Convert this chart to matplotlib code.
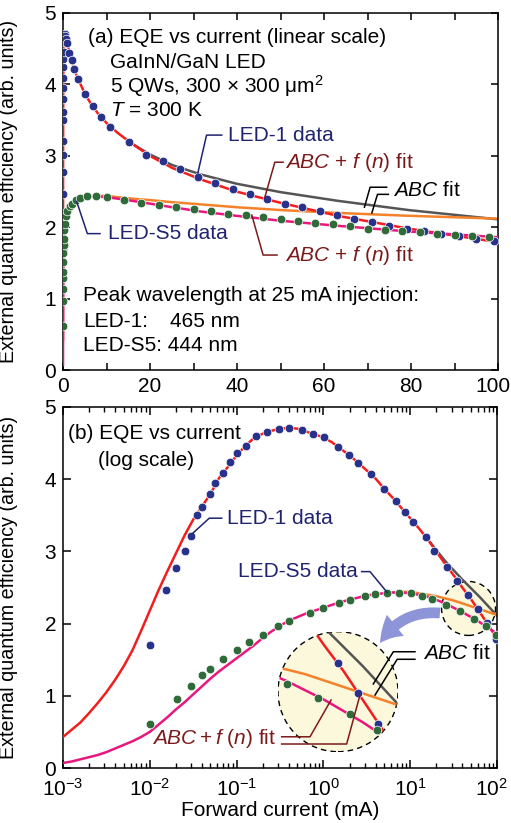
import numpy as np
import matplotlib
matplotlib.use('Agg')
import matplotlib.pyplot as plt
from matplotlib.patches import Circle, FancyArrowPatch
import matplotlib.transforms as mtransforms
from matplotlib.ticker import LogLocator, NullFormatter

plt.rcParams['font.family'] = ['Liberation Sans', 'DejaVu Sans']
plt.rcParams['mathtext.fontset'] = 'custom'
plt.rcParams['mathtext.rm'] = 'Liberation Sans'
plt.rcParams['mathtext.it'] = 'Liberation Sans:italic'
plt.rcParams['mathtext.bf'] = 'Liberation Sans:bold'
plt.rcParams['axes.linewidth'] = 1.1

# ---- measured EQE, LED-1 (log-spaced sweep, used in both panels)
led1_I = [0.01, 0.0152, 0.020, 0.0253, 0.030, 0.035, 0.040, 0.050, 0.056, 0.070,
          0.085, 0.10, 0.128, 0.167, 0.222, 0.31, 0.405, 0.56, 0.766, 1.02,
          1.49, 1.99, 2.53, 3.51, 4.99, 6.85, 8.71, 10.9, 15.2, 19.0,
          26.8, 34.9, 46.8, 59.8, 75.9, 97.7]
led1_eqe = [1.70, 2.46, 2.77, 3.01, 3.21, 3.50, 3.61, 3.79, 3.95, 4.09,
            4.24, 4.36, 4.46, 4.60, 4.65, 4.69, 4.71, 4.68, 4.63, 4.58,
            4.44, 4.34, 4.22, 4.07, 3.87, 3.70, 3.54, 3.41, 3.20, 3.01,
            2.79, 2.59, 2.39, 2.20, 2.01, 1.79]
# LED-1 linear sweep (extra points shown only in the linear panel)
led1_lin_I = [23, 27, 31, 35, 39, 43, 47, 51, 55, 59, 63, 67, 71, 75, 79, 83, 87, 91, 95, 99]
led1_lin_eqe = [2.93, 2.81, 2.71, 2.62, 2.54, 2.47, 2.40, 2.33, 2.28, 2.23,
                2.17, 2.11, 2.07, 2.02, 1.98, 1.95, 1.91, 1.88, 1.84, 1.80]

# ---- measured EQE, LED-S5
s5_I = [0.01, 0.0204, 0.030, 0.040, 0.050, 0.070, 0.10, 0.14, 0.20, 0.30,
        0.405, 0.70, 1.0, 1.51, 2.0, 3.0, 3.93, 5.45, 7.48, 10.1,
        13.6, 17.7, 25.7, 37.2, 54.3, 74.6, 97.2]
s5_eqe = [0.61, 0.96, 1.13, 1.29, 1.37, 1.51, 1.64, 1.75, 1.84, 1.96,
          2.04, 2.15, 2.22, 2.29, 2.33, 2.38, 2.41, 2.43, 2.43, 2.42,
          2.38, 2.34, 2.26, 2.17, 2.07, 1.97, 1.84]
s5_lin_I = [14, 18, 22, 26, 30, 34, 38, 42, 46, 50, 54, 58, 62, 66, 70, 74, 78, 82, 86, 90, 94, 98]
s5_lin_eqe = [2.38, 2.34, 2.31, 2.28, 2.25, 2.22, 2.19, 2.17, 2.14, 2.11, 2.09,
              2.06, 2.04, 2.01, 1.98, 1.96, 1.95, 1.93, 1.91, 1.89, 1.88, 1.86]

# ---- fit curves, read at log10(I) = -3.0 ... 2.0
fit_exp = [-3.0, -2.9, -2.8, -2.7, -2.6, -2.5, -2.4, -2.3, -2.2, -2.1,
           -2.0, -1.9, -1.8, -1.7, -1.6, -1.5, -1.4, -1.3, -1.2, -1.1,
           -1.0, -0.9, -0.8, -0.7, -0.6, -0.5, -0.4, -0.3, -0.2, -0.1,
           0.0, 0.1, 0.2, 0.3, 0.4, 0.5, 0.6, 0.7, 0.8, 0.9,
           1.0, 1.1, 1.2, 1.3, 1.4, 1.5, 1.6, 1.7, 1.8, 1.9, 2.0]
led1_abcf = [0.43, 0.53, 0.63, 0.76, 0.90, 1.05, 1.22, 1.41, 1.63, 1.90,
             2.18, 2.46, 2.72, 2.97, 3.22, 3.44, 3.62, 3.80, 4.02, 4.17,
             4.33, 4.46, 4.57, 4.63, 4.67, 4.70, 4.71, 4.70, 4.66, 4.62,
             4.58, 4.51, 4.42, 4.33, 4.23, 4.12, 4.01, 3.87, 3.74, 3.60,
             3.46, 3.32, 3.17, 3.00, 2.83, 2.67, 2.50, 2.34, 2.16, 1.98, 1.79]
s5_abcf = [0.07, 0.09, 0.12, 0.15, 0.18, 0.22, 0.27, 0.32, 0.37, 0.43,
           0.50, 0.60, 0.70, 0.81, 0.91, 1.02, 1.13, 1.24, 1.34, 1.43,
           1.52, 1.61, 1.70, 1.80, 1.89, 1.97, 2.04, 2.09, 2.14, 2.18,
           2.22, 2.26, 2.30, 2.33, 2.36, 2.39, 2.41, 2.42, 2.43, 2.43,
           2.42, 2.40, 2.37, 2.33, 2.28, 2.22, 2.16, 2.09, 2.02, 1.94, 1.86]
# ABC-only fits, where they part from the ABC + f(n) curves
led1_abc_exp = [1.2, 1.3, 1.4, 1.5, 1.6, 1.7, 1.8, 1.9, 2.0]
led1_abc = [3.17, 3.02, 2.87, 2.74, 2.61, 2.49, 2.37, 2.24, 2.11]
s5_abc_exp = [0.8, 0.9, 1.0, 1.1, 1.2, 1.3, 1.4, 1.5, 1.6, 1.7, 1.8, 1.9, 2.0]
s5_abc = [2.43, 2.44, 2.44, 2.42, 2.40, 2.38, 2.35, 2.32, 2.28, 2.24, 2.20, 2.16, 2.12]

fit_I = 10.0 ** np.array(fit_exp)
led1_abc_I = 10.0 ** np.array(led1_abc_exp)
s5_abc_I = 10.0 ** np.array(s5_abc_exp)

NAVY = '#28328a'
GREEN = '#2f6b38'
RED = '#f21d1d'
MAG = '#e8177d'
ORANGE = '#f5822a'
GRAY = '#555555'
TXT_NAVY = '#1f2370'
TXT_RED = '#7b1a1a'
YELLOW = '#fbf8dc'
ARROW = '#8e94d8'
FS = 15        # annotation text
TICK_FS = 15
LAB_FS = 14.2


def draw_fits(ax):
    out = []
    out += ax.plot(led1_abc_I, led1_abc, color=GRAY, lw=1.8, zorder=2)
    out += ax.plot(s5_abc_I, s5_abc, color=ORANGE, lw=1.8, zorder=2)
    out += ax.plot(fit_I, led1_abcf, color=RED, lw=1.8, zorder=3)
    out += ax.plot(fit_I, s5_abcf, color=MAG, lw=1.8, zorder=3.5)
    return out


def draw_dots(ax, x1, y1, x2, y2):
    out = []
    out += ax.plot(x1, y1, 'o', ms=6.2, mfc=NAVY, mec='white', mew=0.5, zorder=4)
    out += ax.plot(x2, y2, 'o', ms=6.2, mfc=GREEN, mec='white', mew=0.5, zorder=4.5)
    return out


def nudge_last_label(ax, fig, dx_pt):
    lbl = ax.get_xticklabels()[-1]
    lbl.set_transform(lbl.get_transform() +
                      mtransforms.ScaledTranslation(dx_pt / 72, 0, fig.dpi_scale_trans))


fig = plt.figure(figsize=(5.11, 8.23), dpi=100)

# ================= (a) linear scale =================
ax1 = fig.add_axes([63 / 511, 1 - 370 / 823, 435 / 511, 357 / 823])
draw_fits(ax1)
lin1_x = [i for i in led1_I if i < 20] + led1_lin_I
lin1_y = [e for i, e in zip(led1_I, led1_eqe) if i < 20] + led1_lin_eqe
lin5_x = [i for i in s5_I if i < 12] + s5_lin_I
lin5_y = [e for i, e in zip(s5_I, s5_eqe) if i < 12] + s5_lin_eqe
draw_dots(ax1, lin1_x, lin1_y, lin5_x, lin5_y)
ax1.set_xlim(0, 100)
ax1.set_ylim(0, 5)
ax1.set_xticks(range(0, 101, 20))
ax1.set_xticks(range(10, 100, 20), minor=True)
ax1.set_yticks(range(0, 6))
ax1.tick_params(which='both', direction='in', top=True, right=True,
                length=5, width=1.1, labelsize=TICK_FS, pad=5)
ax1.set_ylabel('External quantum efficiency (arb. units)', fontsize=LAB_FS)
ax1.yaxis.set_label_coords(-0.103, 0.5)
nudge_last_label(ax1, fig, -4)

ax1.text(5.75, 4.66, '(a) EQE vs current (linear scale)', fontsize=FS, va='center')
ax1.text(10.8, 4.31, 'GaInN/GaN LED', fontsize=FS, va='center')
ax1.text(10.8, 3.98, '5 QWs, 300 × 300 μm$^2$', fontsize=FS, va='center')
ax1.text(10.8, 3.63, '$T$ = 300 K', fontsize=FS, va='center')

ax1.text(37.9, 3.29, 'LED-1 data', fontsize=FS, color=TXT_NAVY, va='center')
ax1.plot([31, 33.0, 36.5], [2.76, 3.29, 3.29], color=TXT_NAVY, lw=1.1, zorder=5)
ax1.text(51.0, 2.91, '$ABC$ + $f$ ($n$) fit', fontsize=FS, color=TXT_RED, va='center')
ax1.plot([46.4, 48.7, 50.6], [2.42, 2.91, 2.91], color=TXT_RED, lw=1.1, zorder=5)
ax1.text(75.9, 2.52, '$ABC$ fit', fontsize=FS, color='black', va='center')
ax1.plot([69.3, 70.6, 74.4], [2.28, 2.56, 2.56], color='black', lw=1.1, zorder=5)
ax1.plot([71.0, 72.3, 74.8], [2.20, 2.46, 2.46], color='black', lw=1.1, zorder=5)
ax1.text(10.3, 1.91, 'LED-S5 data', fontsize=FS, color=TXT_NAVY, va='center')
ax1.plot([3.15, 5.6, 8.5], [2.36, 1.91, 1.91], color=TXT_NAVY, lw=1.1, zorder=5)
ax1.text(51.0, 1.61, '$ABC$ + $f$ ($n$) fit', fontsize=FS, color=TXT_RED, va='center')
ax1.plot([43.4, 46.0, 49.2], [2.17, 1.61, 1.61], color=TXT_RED, lw=1.1, zorder=5)

ax1.text(4.67, 1.05, 'Peak wavelength at 25 mA injection:', fontsize=FS, va='center')
ax1.text(4.67, 0.68, 'LED-1:', fontsize=FS, va='center')
ax1.text(24.6, 0.68, '465 nm', fontsize=FS, va='center')
ax1.text(4.67, 0.35, 'LED-S5: 444 nm', fontsize=FS, va='center')

# ================= (b) log scale =================
ax2 = fig.add_axes([63 / 511, 1 - 768 / 823, 434 / 511, 361 / 823])
ax2.set_xscale('log')
draw_fits(ax2)
draw_dots(ax2, led1_I, led1_eqe, s5_I, s5_eqe)
ax2.set_xlim(1e-3, 1e2)
ax2.set_ylim(0, 5)
ax2.set_yticks(range(0, 6))
ax2.xaxis.set_minor_locator(LogLocator(base=10, subs=np.arange(2, 10), numticks=20))
ax2.xaxis.set_minor_formatter(NullFormatter())
ax2.tick_params(which='major', direction='in', top=True, right=True,
                length=6, width=1.1, labelsize=TICK_FS, pad=5)
ax2.tick_params(axis='x', which='major', pad=7)
ax2.tick_params(which='minor', direction='in', top=True, right=True,
                length=3.5, width=1.0)
ax2.set_ylabel('External quantum efficiency (arb. units)', fontsize=LAB_FS)
ax2.yaxis.set_label_coords(-0.103, 0.5)
ax2.set_xlabel('Forward current (mA)', fontsize=TICK_FS, labelpad=1)
ax2.set_xticks([1e-3, 1e-2, 1e-1, 1e0, 1e1, 1e2])
nudge_last_label(ax2, fig, -4)

ax2.text(0.012, 0.927, '(b) EQE vs current', transform=ax2.transAxes, fontsize=FS, va='center')
ax2.text(0.081, 0.853, '(log scale)', transform=ax2.transAxes, fontsize=FS, va='center')
ax2.text(0.377, 0.691, 'LED-1 data', transform=ax2.transAxes, fontsize=FS,
         color=TXT_NAVY, va='center')
ax2.plot([0.0312, 0.0484, 0.0673], [3.25, 3.46, 3.46], color=TXT_NAVY, lw=1.1, zorder=5)
ax2.text(0.680, 0.544, 'LED-S5 data', transform=ax2.transAxes, fontsize=FS,
         color=TXT_NAVY, va='center', ha='right')
ax2.plot([2.76, 3.44, 5.45], [2.72, 2.72, 2.43], color=TXT_NAVY, lw=1.1, zorder=5)
ax2.text(0.830, 0.318, '$ABC$ fit', transform=ax2.transAxes, fontsize=FS, va='center')
ax2.text(0.492, 0.0823, '$ABC + f$ ($n$) fit', transform=ax2.transAxes, fontsize=FS,
         color=TXT_RED, va='center', ha='right')

# small circle marking the zoomed region
zoom_c = (47.0, 2.21)
zoom_r = 0.27  # inches
small = Circle((0, 0), zoom_r, facecolor=YELLOW, edgecolor='black', ls=(0, (4, 3)),
               lw=1.0, zorder=1.5,
               transform=fig.dpi_scale_trans + mtransforms.ScaledTranslation(
                   zoom_c[0], zoom_c[1], ax2.transData))
ax2.add_patch(small)

arrow = FancyArrowPatch((22.0, 2.147), (4.49, 1.731), connectionstyle='arc3,rad=0.3',
                        arrowstyle='simple,head_width=1.4,head_length=1.2,tail_width=0.55',
                        mutation_scale=14, color=ARROW, lw=0, zorder=6,
                        shrinkA=0, shrinkB=0)
ax2.add_patch(arrow)

# magnified inset
cx, cy = ax2.transData.transform(zoom_c)
rpx = zoom_r * fig.dpi
x0, y0 = ax2.transData.inverted().transform((cx - rpx, cy - rpx))
x1, y1 = ax2.transData.inverted().transform((cx + rpx, cy + rpx))
axin = fig.add_axes([278 / 511, 1 - 751.7 / 823, 120 / 511, 120 / 823])
axin.set_xscale('log')
axin.set_xlim(x0, x1)
axin.set_ylim(y0, y1)
axin.axis('off')
big = Circle((0.5, 0.5), 0.5, transform=axin.transAxes, facecolor=YELLOW,
             edgecolor='black', ls=(0, (4, 3)), lw=1.0, zorder=1)
axin.add_patch(big)
for art in draw_fits(axin) + draw_dots(axin, led1_I, led1_eqe, s5_I, s5_eqe):
    art.set_clip_path(big)

# leader lines pointing into the inset
axin.plot(10 ** np.array([2.071, 1.959, 1.855]), [2.459, 2.459, 2.258],
          color='black', lw=1.1, clip_on=False, zorder=6)
axin.plot(10 ** np.array([2.071, 1.979, 1.864]), [2.412, 2.412, 2.189],
          color='black', lw=1.1, clip_on=False, zorder=6)
axin.plot(10 ** np.array([1.380, 1.527, 1.636]), [1.929, 1.929, 2.158],
          color=TXT_RED, lw=1.1, clip_on=False, zorder=6)
axin.plot(10 ** np.array([1.380, 1.717, 1.786]), [1.884, 1.884, 2.189],
          color=TXT_RED, lw=1.1, clip_on=False, zorder=6)

fig.savefig('out.png', dpi=100)
